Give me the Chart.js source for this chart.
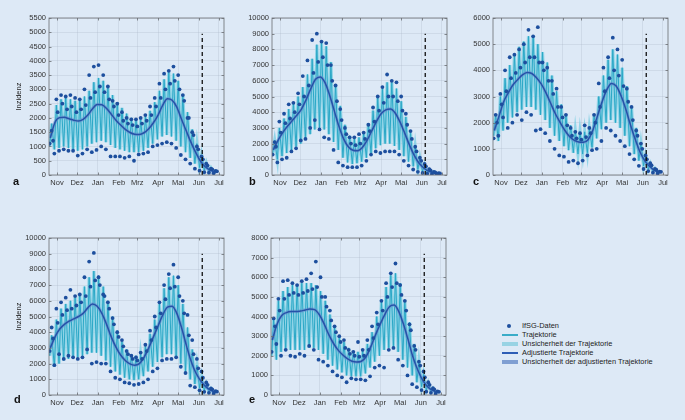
<!DOCTYPE html>
<html>
<head>
<meta charset="utf-8">
<script src="https://cdn.jsdelivr.net/npm/chart.js@4.4.1/dist/chart.umd.min.js"></script>
<style>
  body { margin: 0; width: 685px; height: 420px; background: #dde9f6; position: relative; overflow: hidden;
         font-family: "Liberation Sans", Arial, sans-serif; }
  canvas { position: absolute; }
  .tag { position: absolute; font-weight: bold; font-size: 11px; color: #111; }
  .ytitle { position: absolute; font-size: 7.5px; color: #222; width: 60px; text-align: center; transform: rotate(-90deg); }
  #legend { position: absolute; left: 500px; top: 321px; font-size: 7.4px; color: #222; }
  .row { position: relative; height: 9px; line-height: 9px; padding-left: 22px; white-space: nowrap; }
  .sym { position: absolute; }
</style>
</head>
<body>
<canvas id="pa" width="225" height="185" style="left:9px;top:10px"></canvas>
<canvas id="pb" width="225" height="185" style="left:232px;top:10px"></canvas>
<canvas id="pc" width="225" height="185" style="left:453px;top:10px"></canvas>
<canvas id="pd" width="225" height="185" style="left:9px;top:230px"></canvas>
<canvas id="pe" width="225" height="185" style="left:231px;top:230px"></canvas>

<div class="ytitle" style="left:-12px;top:92px">Inzidenz</div>
<div class="ytitle" style="left:-12px;top:312px">Inzidenz</div>
<div class="tag" style="left:13px;top:175px">a</div>
<div class="tag" style="left:249px;top:175px">b</div>
<div class="tag" style="left:473px;top:175px">c</div>
<div class="tag" style="left:14px;top:393px">d</div>
<div class="tag" style="left:249px;top:393px">e</div>

<div id="legend">
  <div class="row"><span class="sym" style="left:7px;top:2.5px;width:4px;height:4px;border-radius:50%;background:#1d4f9e"></span>IfSG-Daten</div>
  <div class="row"><span class="sym" style="left:2px;top:4px;width:16px;height:1.5px;background:#39acc8"></span>Trajektorie</div>
  <div class="row"><span class="sym" style="left:2px;top:2.5px;width:16px;height:4px;background:#98d3e4"></span>Unsicherheit der Trajektorie</div>
  <div class="row"><span class="sym" style="left:2px;top:4px;width:16px;height:1.5px;background:#2d5db5"></span>Adjustierte Trajektorie</div>
  <div class="row"><span class="sym" style="left:2px;top:2.5px;width:16px;height:4px;background:#7f9fd2"></span>Unsicherheit der adjustierten Trajektorie</div>
</div>

<script>
// x = days since 1 Nov; one value per week, weeks start 21 Oct
const firstDay = -11;
const monthDays = [0, 30, 61, 92, 120, 151, 181, 212, 242];
const monthLabels = ['Nov', 'Dez', 'Jan', 'Feb', 'Mrz', 'Apr', 'Mai', 'Jun', 'Jul'];
const dashDay = 217;

// panel a
const loA = [1000,900,950,1000,950,900,850,900,1000,1100,1150,1200,1150,1050,950,900,850,800,800,800,850,950,1100,1250,1350,1400,1350,1200,1000,800,600,400,260,170,110,80];
const hiA = [1800,2450,2650,2700,2650,2600,2600,2750,2950,3250,3400,3300,3050,2800,2550,2350,2150,2000,1950,1950,2050,2250,2550,2950,3350,3600,3550,3300,2800,2200,1600,1100,700,420,250,150];
const adjA = [1300,1850,2010,2020,1970,1920,1890,1950,2100,2320,2470,2460,2330,2130,1920,1750,1600,1490,1430,1420,1480,1620,1830,2100,2450,2670,2620,2380,1950,1550,1150,800,500,300,180,110];
const dotHiA = [1550,2650,2800,2750,2800,2700,2650,3000,3500,3800,3850,3500,3100,2600,2500,2200,2000,1950,1950,2000,2100,2400,2700,3200,3550,3650,3800,3500,2800,2000,1500,1000,650,400,220,140];
const dotMidA = [1200,2200,2500,2300,2400,2200,2300,2450,2700,2900,3100,2900,2650,2400,2100,1900,1800,1750,1700,1800,1900,2100,2400,2700,3000,3200,3300,3000,2600,2000,1400,900,550,330,200,130];
const dotLoA = [1100,750,850,900,850,850,680,750,900,800,880,1000,900,650,650,650,600,650,500,720,750,800,1000,1050,1100,1150,1100,950,700,550,400,220,150,100,80,60];

// panel b
const loB = [1400,1000,1200,1400,1600,1800,2000,2300,2600,2900,3000,2900,2600,2100,1600,1100,800,700,750,850,1100,1400,1700,1900,2000,2000,1850,1600,1200,850,550,350,220,140,90,60];
const hiB = [2200,3000,3600,4200,4600,5000,5600,6400,7400,8300,8500,8200,7200,5800,4400,3200,2500,2300,2400,2700,3300,4100,4900,5500,5900,5900,5500,4700,3700,2700,1800,1100,650,350,200,120];
const adjB = [1600,2200,2700,3100,3450,3800,4200,4800,5500,6100,6250,5900,5100,4100,3100,2300,1800,1580,1550,1750,2200,2800,3400,3900,4150,4200,3950,3400,2700,1950,1300,800,480,260,150,90];
const dotHiB = [2100,3400,3900,4500,4600,5200,6300,7300,8600,9000,8500,8400,7000,5700,4200,3000,2400,2400,2600,2700,3200,4300,5000,5600,6400,6000,5900,5000,3900,2800,1800,1100,700,380,200,110];
const dotMidB = [1800,2700,3300,3600,4000,4500,5000,5700,6500,7200,7500,7000,6000,4700,3500,2600,2000,1900,2000,2300,2800,3400,4100,4600,5000,5000,4700,4100,3200,2300,1500,900,550,300,170,100];
const dotLoB = [1300,800,1000,1100,1500,1700,2200,2300,3000,3500,2900,2400,2300,1600,800,600,500,500,500,600,900,1300,1500,1400,1500,1500,1500,1300,900,600,350,200,130,90,60,40];

// panel c
const loC = [1500,1300,1700,2000,2200,2400,2500,2600,2600,2500,2300,2100,1800,1500,1300,1100,950,850,800,800,850,1050,1400,1750,2000,2100,2000,1800,1500,1100,800,550,350,220,130,80];
const hiC = [2300,3000,3700,4200,4600,4900,5100,5300,5300,5000,4700,4300,3800,3200,2700,2300,1900,1700,1650,1650,1800,2300,3000,3800,4400,4800,4600,4100,3400,2600,1800,1200,750,430,250,140];
const adjC = [1700,2250,2800,3150,3450,3650,3830,3920,3880,3720,3480,3150,2750,2350,2020,1720,1480,1330,1260,1250,1350,1700,2250,2800,3250,3500,3400,3050,2550,1950,1400,920,580,350,200,120];
const dotHiC = [2300,3100,4000,4500,4600,4800,5000,5550,5300,5650,4300,4100,3600,3300,2600,2300,1800,1650,1600,1900,1800,2300,3500,4100,4500,5250,4800,4400,3300,2600,1700,1200,750,450,230,130];
const dotMidC = [2000,2700,3200,3700,3900,4100,4300,4500,4500,4300,4000,3600,3100,2600,2200,1900,1500,1400,1350,1450,1600,2000,2600,3200,3700,4000,3800,3400,2800,2100,1500,1000,600,370,200,120];
const dotLoC = [1400,1500,2200,1800,2000,2300,2100,2400,2300,1700,1750,1600,1300,1000,750,700,500,550,450,550,750,950,1000,1300,1800,1700,1500,1300,1100,800,600,350,230,150,90,60];

// panel d
const loD = [2500,1800,2000,2200,2300,2400,2400,2500,2600,2700,2700,2500,2200,1800,1500,1300,1100,1000,950,1000,1200,1500,1800,2100,2400,2600,2600,2400,2000,1500,1000,700,450,300,190,120];
const hiD = [3800,4800,5500,5800,6000,6200,6500,6900,7500,7900,7600,6900,6000,5000,4100,3400,2900,2600,2500,2600,3100,3900,4800,5800,6800,7500,7600,7000,5800,4300,2900,1900,1200,700,400,230];
const adjD = [3000,3700,4200,4500,4700,4850,5000,5200,5550,5800,5650,5200,4500,3700,3050,2550,2200,1980,1900,2000,2400,3000,3700,4400,5100,5600,5650,5200,4300,3200,2200,1450,950,580,340,200];
const dotHiD = [4300,5500,5900,6200,6700,6300,6400,7500,8500,9050,7500,6400,5900,4900,4000,3500,2800,2500,2400,2700,3200,4100,5000,5900,7000,7700,8300,7500,6000,5100,3500,2300,1500,800,420,240];
const dotMidD = [3600,4600,5100,5400,5500,5700,5900,6300,6900,7300,7000,6300,5500,4500,3700,3100,2600,2300,2200,2300,2800,3500,4300,5200,6100,6800,6900,6300,5200,3800,2600,1700,1100,650,360,210];
const dotLoD = [2800,1900,2600,2300,2500,2400,2300,2400,2900,2000,2100,2000,2000,1500,1100,1000,800,750,650,700,800,1000,1500,1700,2200,2300,2300,2400,1800,1400,600,500,300,200,140,90];

// panel e
const loE = [2000,1800,2200,2300,2300,2300,2300,2300,2400,2400,2300,2100,1800,1500,1300,1150,1000,950,950,950,1100,1400,1700,2000,2300,2400,2400,2200,1800,1400,1000,650,420,260,160,100];
const hiE = [3900,4800,5300,5500,5600,5600,5700,5700,5700,5600,5300,4800,4100,3500,3000,2700,2400,2250,2200,2250,2600,3200,4000,4800,5500,6100,6200,5700,4800,3700,2600,1700,1050,600,330,190];
const adjE = [2800,3600,4050,4200,4250,4250,4280,4330,4380,4350,4100,3650,3100,2650,2300,2050,1850,1720,1680,1720,1950,2450,3050,3600,4100,4500,4580,4250,3600,2800,1950,1300,800,460,260,150];
const dotHiE = [3900,4900,5800,5850,5700,5600,5800,5900,6200,6800,6000,5000,4300,3500,3000,2800,2300,2200,2700,2300,2800,3500,4200,4800,5700,6200,6700,5600,4800,3600,2500,1700,1200,650,350,180];
const dotMidE = [3500,4300,4900,5100,5200,5100,5200,5300,5400,5500,5000,4500,3800,3200,2700,2400,2100,2000,1950,2000,2300,2900,3600,4300,5000,5500,5700,5100,4300,3300,2300,1500,900,520,290,160];
const dotLoE = [2200,2600,2000,2300,2000,1950,2100,2000,2500,2300,1800,1700,1500,1200,1000,900,650,850,800,800,750,950,1400,1500,1400,2300,2400,1800,1500,1000,550,400,250,170,110,70];

// frame + inward ticks, like the original plots
const boxPlugin = {
  id: 'box',
  afterDraw(chart) {
    const { ctx, chartArea: a, scales } = chart;
    ctx.save();
    ctx.strokeStyle = '#6a6d72';
    ctx.lineWidth = 0.8;
    ctx.strokeRect(a.left, a.top, a.right - a.left, a.bottom - a.top);
    ctx.beginPath();
    scales.y.ticks.forEach(t => {
      const py = Math.round(scales.y.getPixelForValue(t.value)) + 0.5;
      ctx.moveTo(a.left, py); ctx.lineTo(a.left + 2.5, py);
      ctx.moveTo(a.right, py); ctx.lineTo(a.right - 2.5, py);
    });
    scales.x.ticks.forEach(t => {
      const px = Math.round(scales.x.getPixelForValue(t.value)) + 0.5;
      ctx.moveTo(px, a.bottom); ctx.lineTo(px, a.bottom - 2.5);
      ctx.moveTo(px, a.top); ctx.lineTo(px, a.top + 2.5);
    });
    ctx.stroke();
    ctx.restore();
  }
};

function weekly(vals, offset) {
  return vals.map((v, k) => ({ x: firstDay + 7 * k + offset, y: v }));
}

function makePanel(id, yMax, yStep, dashTop, lo, hi, adj, dHi, dMid, dLo) {
  const traj = [];
  lo.forEach((v, k) => {
    traj.push({ x: firstDay + 7 * k, y: v });
    traj.push({ x: firstDay + 7 * k + 3, y: hi[k] });
  });
  const adjPts = weekly(adj, 1);
  const dots = weekly(dHi, 3).concat(weekly(dMid, 5), weekly(dLo, 0));

  new Chart(document.getElementById(id), {
    type: 'scatter',
    data: {
      datasets: [
        { data: traj, showLine: true, pointRadius: 0, borderWidth: 3.2, borderColor: 'rgba(130,208,228,0.85)', order: 5 },
        { data: traj, showLine: true, pointRadius: 0, borderWidth: 1, borderColor: '#2aa7c6', order: 4 },
        { data: adjPts, showLine: true, pointRadius: 0, borderWidth: 3.5, borderColor: 'rgba(100,138,205,0.5)', tension: 0.4, cubicInterpolationMode: 'monotone', order: 3 },
        { data: adjPts, showLine: true, pointRadius: 0, borderWidth: 1.5, borderColor: '#2652a8', tension: 0.4, cubicInterpolationMode: 'monotone', order: 2 },
        { data: dots, pointRadius: 1.9, pointBackgroundColor: '#1d4f9e', pointBorderWidth: 0, order: 1 },
        { data: [{ x: dashDay, y: 0 }, { x: dashDay, y: dashTop }], showLine: true, pointRadius: 0, borderWidth: 1.3, borderColor: '#111', borderDash: [4, 3], order: 0 }
      ]
    },
    options: {
      responsive: false,
      animation: false,
      devicePixelRatio: 1,
      layout: { padding: { top: 8, right: 10, left: 0, bottom: 0 } },
      plugins: { legend: { display: false }, tooltip: { enabled: false } },
      scales: {
        x: {
          type: 'linear', min: -12, max: 249.5,
          afterFit: s => { s.height = 20; },
          afterBuildTicks: s => { s.ticks = monthDays.map(v => ({ value: v })); },
          grid: { color: 'rgba(160,172,188,0.35)', lineWidth: 0.7, drawTicks: false },
          border: { display: false },
          ticks: {
            autoSkip: false, maxRotation: 0, padding: 3, color: '#333',
            font: { family: 'Liberation Sans', size: 7.5 },
            callback: v => monthLabels[monthDays.indexOf(v)]
          }
        },
        y: {
          min: 0, max: yMax,
          afterFit: s => { s.width = 40; },
          grid: { color: 'rgba(160,172,188,0.35)', lineWidth: 0.7, drawTicks: false },
          border: { display: false },
          ticks: { stepSize: yStep, padding: 3, color: '#333', font: { family: 'Liberation Sans', size: 7.5 },
                   callback: v => String(v) }
        }
      }
    },
    plugins: [boxPlugin]
  });
}

makePanel('pa', 5500, 500, 4950, loA, hiA, adjA, dotHiA, dotMidA, dotLoA);
makePanel('pb', 10000, 1000, 9000, loB, hiB, adjB, dotHiB, dotMidB, dotLoB);
makePanel('pc', 6000, 1000, 5400, loC, hiC, adjC, dotHiC, dotMidC, dotLoC);
makePanel('pd', 10000, 1000, 9000, loD, hiD, adjD, dotHiD, dotMidD, dotLoD);
makePanel('pe', 8000, 1000, 7200, loE, hiE, adjE, dotHiE, dotMidE, dotLoE);
</script>
</body>
</html>
